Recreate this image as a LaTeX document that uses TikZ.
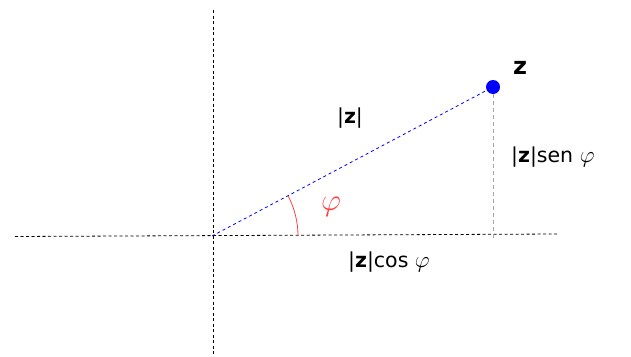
\RequirePackage{fix-cm}
\documentclass[tikz,border=0pt]{standalone}
\usepackage{fontspec}
\setmainfont{DejaVu Sans}
\begin{document}
\begin{tikzpicture}[x=1pt,y=-1pt,
  lbl/.style={inner sep=0pt,font=\fontsize{20.5}{24}\selectfont},
  axis/.style={black,line width=0.8pt,dash pattern=on 3pt off 2.5pt},
  vec/.style={blue,line width=0.8pt,dash pattern=on 3pt off 3pt},
  proj/.style={gray!70,line width=0.9pt,dash pattern=on 4pt off 3pt}]
\useasboundingbox (0,0) rectangle (631,356);
\coordinate (O) at (212,236);
\coordinate (xl) at (15,236.5);
\coordinate (xr) at (558,234);
\coordinate (yt) at (213,10);
\coordinate (yb) at (213,355);
\coordinate (Z) at (493,87);
\coordinate (F) at (493,238);
\draw[axis] (xl) -- (xr);
\draw[axis] (yt) -- (yb);
\draw[proj] (Z) -- (F);
\draw[vec] (O) -- (Z);
\draw[red!75,line width=0.8pt] ([shift={(86,0)}]O) arc[start angle=0,end angle=-27.9,radius=86];
\fill[blue] (Z) circle (7);
\node[lbl,font=\fontsize{24}{28}\selectfont\bfseries] (zl) at (520,68) {z};
\node[lbl] (mod) at (350,118) {|\textbf{z}|};
\node[lbl,anchor=west] (sen) at (511,157) {|\textbf{z}|sen {\fontsize{23}{26}\selectfont$\varphi$}};
\node[lbl,anchor=west] (cos) at (348,262) {|\textbf{z}|cos {\fontsize{23}{26}\selectfont$\varphi$}};
\node[lbl,red!75,font=\fontsize{31}{34}\selectfont] (phi) at (331,207) {$\varphi$};
\end{tikzpicture}
\end{document}
